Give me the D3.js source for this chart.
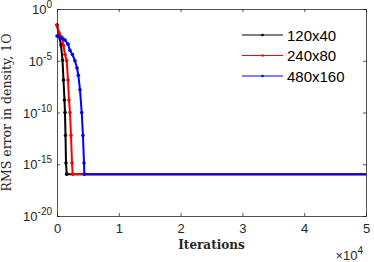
<!DOCTYPE html>
<html><head><meta charset="utf-8">
<script src="https://cdn.jsdelivr.net/npm/d3@7"></script>
<style>
html,body{margin:0;padding:0;background:#fff;}
svg{display:block;}
</style></head>
<body>
<svg id="c" width="374" height="262"></svg>
<script>
// ---- data ----
const seriesNames = ["120x40", "240x80", "480x160"];
const seriesColors = ["#000000", "#ff0000", "#0000ff"];
const iter120 = [0, 324, 647, 890, 1050, 1210, 1294, 1375, 1456, 1570, 50000];
const err120  = [2.8e-2, 3.2e-3, 3.3e-4, 1.2e-5, 1.4e-7, 1.6e-9, 1e-10, 6e-13, 1.3e-15, 1.1e-16, 1.1e-16];
const iter240 = [0, 324, 760, 1050, 1294, 1570, 1780, 1940, 2100, 2265, 2427, 2540, 50000];
const err240  = [2.8e-2, 5e-3, 2e-3, 3e-4, 4e-5, 1e-5, 1.4e-7, 1.6e-9, 1e-10, 6e-13, 1.3e-15, 1.1e-16, 1.1e-16];
const iter480 = [0, 485, 970, 1294, 1780, 2100, 2500, 2910, 3240, 3450, 3720, 4000, 4200, 4370, 4420, 50000];
const err480  = [2.5e-3, 1.6e-3, 1.3e-3, 1e-3, 4e-4, 1e-4, 4e-5, 1e-5, 2e-6, 4e-7, 1.6e-8, 1e-10, 6e-13, 1.3e-15, 1.1e-16, 1.1e-16];
const xTicks = [0, 10000, 20000, 30000, 40000, 50000];
const xTickLabels = ["0", "1", "2", "3", "4", "5"];
const yTicks = [1, 1e-5, 1e-10, 1e-15, 1e-20];
const yTickExps = ["0", "-5", "-10", "-15", "-20"];

const seriesIters = [iter120, iter240, iter480];
const seriesErrs = [err120, err240, err480];

// ---- layout ----
const L = 57, R = 366, T = 9, B = 216;
const svg = d3.select("#c");
const x = d3.scaleLinear().domain([0, 50000]).range([L, R]);
const y = d3.scaleLog().domain([1e-20, 1]).range([B, T]);

const tickFont = "'Liberation Sans', Arial, sans-serif";
const serif = "'DejaVu Serif', 'Liberation Serif', serif";

// data
const line = d3.line().x(d => x(d[0])).y(d => y(d[1]));
seriesNames.forEach((name, i) => {
  const pts = seriesIters[i].map((v, j) => [v, seriesErrs[i][j]]);
  const g = svg.append("g");
  g.append("path").datum(pts).attr("d", line)
    .attr("fill", "none").attr("stroke", seriesColors[i]).attr("stroke-width", 2);
  g.selectAll("circle").data(pts.slice(0, -1)).join("circle")
    .attr("cx", d => x(d[0])).attr("cy", d => y(d[1])).attr("r", 1.8)
    .attr("fill", seriesColors[i]);
});

// axes (box with inward ticks)
const axCol = "#262626";
const xb = d3.axisBottom(x).tickValues(xTicks).tickSize(-3).tickPadding(8).tickFormat((d, i) => xTickLabels[i]);
const gx = svg.append("g").attr("transform", `translate(0,${B})`).call(xb);
gx.selectAll("text").attr("font-family", tickFont).attr("font-size", 13).attr("fill", axCol);
const xt = d3.axisTop(x).tickValues(xTicks).tickSize(-3).tickFormat("");
svg.append("g").attr("transform", `translate(0,${T})`).call(xt);

const yl = d3.axisLeft(y).tickValues(yTicks).tickSize(-3).tickFormat("");
const gy = svg.append("g").attr("transform", `translate(${L},0)`).call(yl);
gy.selectAll(".tick").each(function(d, i) {
  const t = d3.select(this).append("text")
    .attr("x", -5).attr("y", 4.5).attr("text-anchor", "end")
    .attr("font-family", tickFont).attr("font-size", 13).attr("fill", axCol);
  t.append("tspan").text("10");
  t.append("tspan").attr("dy", -6).attr("font-size", 10).text(yTickExps[i]);
});
const yr = d3.axisRight(y).tickValues(yTicks).tickSize(-3).tickFormat("");
svg.append("g").attr("transform", `translate(${R},0)`).call(yr);
svg.selectAll(".domain").attr("stroke", axCol).attr("stroke-width", 0.8);
svg.selectAll(".tick line").attr("stroke", axCol).attr("stroke-width", 0.8);

// labels
svg.append("text").attr("x", (L + R) / 2).attr("y", 249).attr("text-anchor", "middle")
  .attr("font-family", serif).attr("font-weight", "bold").attr("font-size", 12)
  .attr("fill", axCol).text("Iterations");
const ex = svg.append("text").attr("x", 363).attr("y", 260).attr("text-anchor", "end")
  .attr("font-family", tickFont).attr("font-size", 13).attr("fill", axCol);
ex.append("tspan").text("\u00d710");
ex.append("tspan").attr("dy", -6).attr("font-size", 10).text("4");

svg.append("text").attr("transform", `translate(11,${(T + B) / 2}) rotate(-90)`)
  .attr("text-anchor", "middle").attr("font-family", serif).attr("font-size", 12.5)
  .attr("fill", axCol).text("RMS error in density, 1O");

// legend
const lg = svg.append("g");
seriesNames.forEach((name, i) => {
  const ly = 35 + i * 20.5;
  lg.append("line").attr("x1", 242).attr("x2", 283).attr("y1", ly).attr("y2", ly)
    .attr("stroke", seriesColors[i]).attr("stroke-width", 1);
  lg.append("circle").attr("cx", 262.5).attr("cy", ly).attr("r", 1.3).attr("fill", seriesColors[i]);
  lg.append("text").attr("x", 287).attr("y", ly + 5.5).attr("font-family", tickFont)
    .attr("font-size", 15).attr("fill", "#000").text(name);
});
</script>
</body></html>
